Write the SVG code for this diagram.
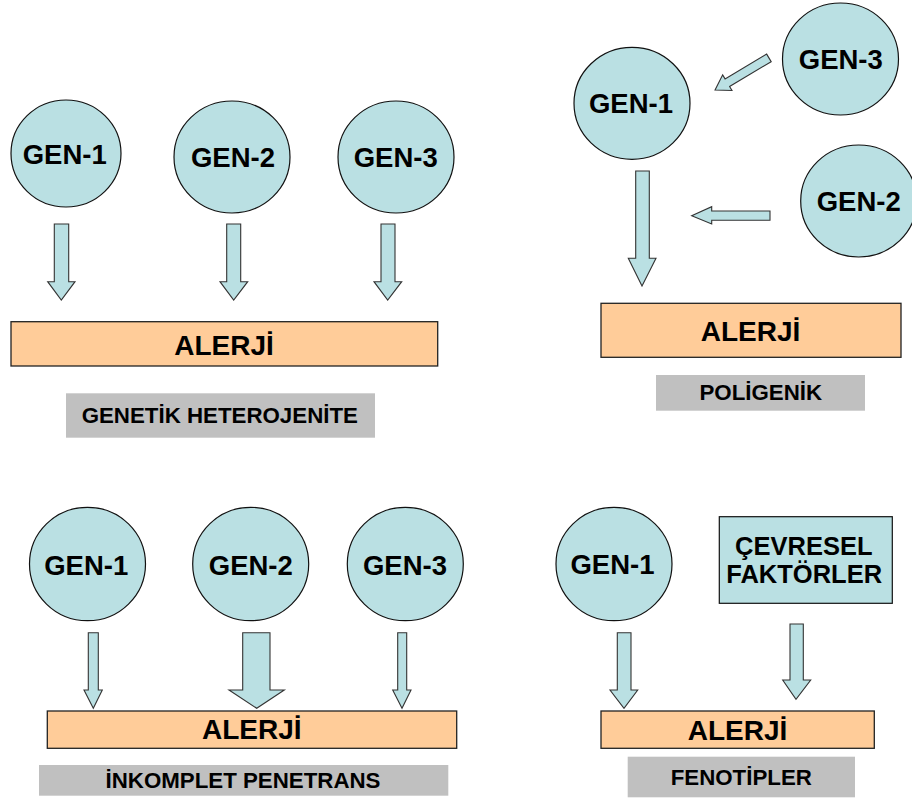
<svg xmlns="http://www.w3.org/2000/svg" width="912" height="801" viewBox="0 0 912 801">
<style>
.gen{fill:#BAE0E3;stroke:#111;stroke-width:1.2}
.arr{fill:#BAE0E3;stroke:#333;stroke-width:1.1;stroke-linejoin:miter}
.al{fill:#FFCC99;stroke:#222;stroke-width:1.3}
.gr{fill:#C0C0C0;stroke:none}
text{font-family:"Liberation Sans",Arial,sans-serif;font-weight:bold;fill:#000;text-anchor:middle}
.t27{font-size:27.5px}
.t28{font-size:28px}
.t21{font-size:22.3px}
.t24{font-size:25.5px}
</style>
<rect width="912" height="801" fill="#fff"/>
<g id="connectors">
<path class="arr" d="M54.3,224 H68.7 V281.7 H75 L61.3,300 L47.7,281.7 H54.3 Z"/>
<path class="arr" d="M226.7,224 H240.7 V281.7 H247.7 L233.7,300 L220,281.7 H226.7 Z"/>
<path class="arr" d="M381,224 H395 V281.7 H401.7 L387.7,300 L374,281.7 H381 Z"/>
<path class="arr" d="M635.7,171 H649.3 V258.3 H656 L642,286 L628.3,258.3 H635.7 Z"/>
<path class="arr" d="M770,211 V220.3 H711.7 V224 L691.7,215.7 L711.7,206.7 V211 Z"/>
<path class="arr" transform="translate(768.9,57.9) rotate(149.2)" d="M0,-4.4 H48.4 V-9.1 L62.7,0 L48.4,9.1 V4.4 H0 Z"/>
<path class="arr" d="M88.3,632.7 H98.3 V690 H102.3 L93.3,708.3 L84,690 H88.3 Z"/>
<path class="arr" d="M242.7,632.7 H270 V690 H284.3 L256.7,708.3 L229,690 H242.7 Z"/>
<path class="arr" d="M397.7,632.7 H406.7 V690 H411 L402,708.3 L392.7,690 H397.7 Z"/>
<path class="arr" d="M617.3,632.7 H631 V690 H637.7 L624,708.3 L610,690 H617.3 Z"/>
<path class="arr" d="M790,624 H803.3 V680 H810.7 L796,699.3 L782.7,680 H790 Z"/>
</g>
<g id="tl-gen1"><ellipse class="gen" cx="66" cy="153.5" rx="55" ry="53.5"/><text class="t27" x="64.7" y="164">GEN-1</text></g>
<g id="tl-gen2"><ellipse class="gen" cx="232" cy="157" rx="58" ry="56"/><text class="t27" x="233" y="166.7">GEN-2</text></g>
<g id="tl-gen3"><ellipse class="gen" cx="396" cy="157" rx="58" ry="56"/><text class="t27" x="395.7" y="166.7">GEN-3</text></g>
<g id="tl-alerji"><rect class="al" x="11" y="321.7" width="426.7" height="44.3"/><text class="t28" x="224" y="355">ALERJİ</text></g>
<g id="tl-label"><rect class="gr" x="66" y="393.3" width="309" height="44.4"/><text class="t21" x="219.8" y="422.7">GENETİK HETEROJENİTE</text></g>

<g id="tr-gen1"><ellipse class="gen" cx="632" cy="103.3" rx="58" ry="56"/><text class="t27" x="631" y="112.7">GEN-1</text></g>
<g id="tr-gen3"><ellipse class="gen" cx="840.5" cy="59" rx="58" ry="56"/><text class="t27" x="840.8" y="69">GEN-3</text></g>
<g id="tr-gen2"><ellipse class="gen" cx="858.7" cy="201" rx="58" ry="56"/><text class="t27" x="858.7" y="210.7">GEN-2</text></g>
<g id="tr-alerji"><rect class="al" x="601" y="303.3" width="300" height="54"/><text class="t28" x="750.5" y="340.7">ALERJİ</text></g>
<g id="tr-label"><rect class="gr" x="656" y="375" width="209" height="35.7"/><text class="t21" x="760.8" y="400">POLİGENİK</text></g>

<g id="bl-gen1"><ellipse class="gen" cx="87.5" cy="564" rx="58" ry="56.7"/><text class="t27" x="86.2" y="575">GEN-1</text></g>
<g id="bl-gen2"><ellipse class="gen" cx="250.7" cy="564" rx="58" ry="56.7"/><text class="t27" x="250.8" y="575">GEN-2</text></g>
<g id="bl-gen3"><ellipse class="gen" cx="405.3" cy="564" rx="58" ry="56.7"/><text class="t27" x="405" y="575">GEN-3</text></g>
<g id="bl-alerji"><rect class="al" x="47.3" y="711" width="409.4" height="37.3"/><text class="t28" x="251.7" y="739.3">ALERJİ</text></g>
<g id="bl-label"><rect class="gr" x="39" y="765" width="409.3" height="30.7"/><text class="t21" x="243" y="787.7">İNKOMPLET PENETRANS</text></g>

<g id="br-gen1"><ellipse class="gen" cx="614" cy="564" rx="58" ry="56.7"/><text class="t27" x="612.5" y="574">GEN-1</text></g>
<g id="br-env"><rect class="gen" x="719.3" y="516.7" width="173" height="86.6"/><text class="t24" x="803.8" y="555">ÇEVRESEL</text><text class="t24" x="804.2" y="583.3">FAKTÖRLER</text></g>
<g id="br-alerji"><rect class="al" x="601" y="711" width="273.3" height="37.3"/><text class="t28" x="737.5" y="740">ALERJİ</text></g>
<g id="br-label"><rect class="gr" x="627.7" y="756.7" width="227.3" height="40.6"/><text class="t21" x="741.3" y="785">FENOTİPLER</text></g>
</svg>
